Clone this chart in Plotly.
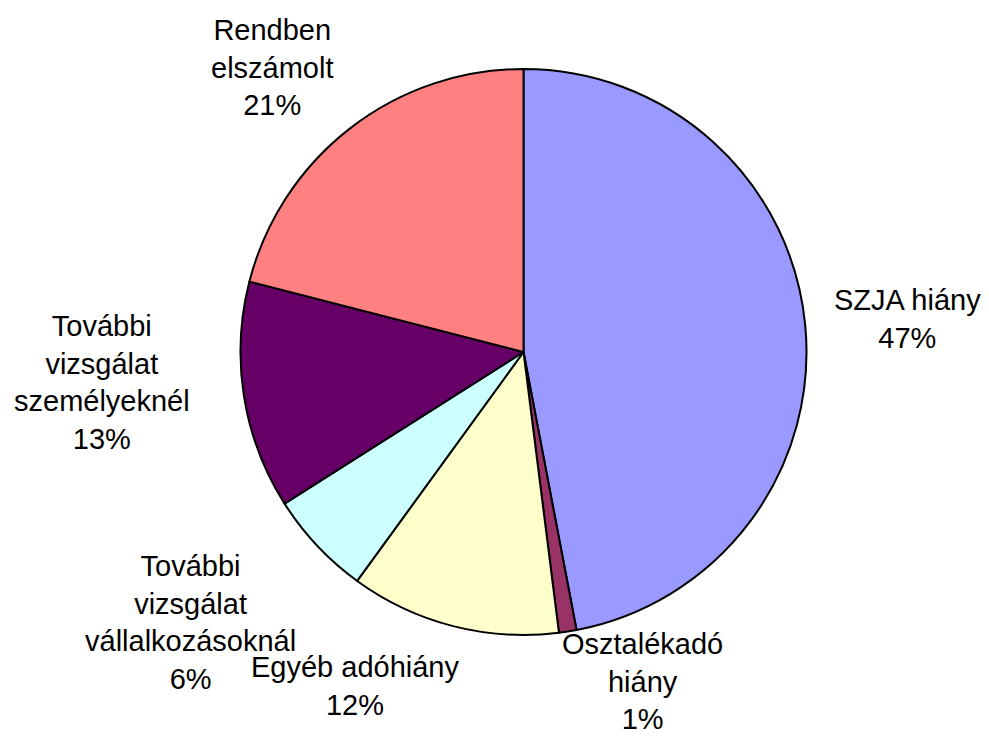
import plotly.graph_objects as go

labels = ["SZJA hiány", "Osztalékadó<br>hiány", "Egyéb adóhiány",
          "További<br>vizsgálat<br>vállalkozásoknál", "További<br>vizsgálat<br>személyeknél",
          "Rendben<br>elszámolt"]
values = [47, 1, 12, 6, 13, 21]
colors = ["#9999FF", "#993366", "#FFFFCC", "#CCFFFF", "#660066", "#FF8080"]

W, H = 989, 737
cx, cy, r = 523.5, 352, 283

# label block centres (pixels) — layout only
label_pos = [(907, 319), (642, 681), (355, 686), (190, 622), (102, 382), (272, 67)]

fig = go.Figure(go.Pie(
    labels=labels, values=values, sort=False, direction="clockwise", rotation=0,
    marker=dict(colors=colors, line=dict(color="black", width=2)),
    textinfo="none", showlegend=False, hoverinfo="label+percent",
    domain=dict(x=[(cx - r) / W, (cx + r) / W], y=[(H - cy - r) / H, (H - cy + r) / H]),
))

total = sum(values)
for lab, v, (px, py) in zip(labels, values, label_pos):
    fig.add_annotation(
        x=px / W, y=1 - py / H, xref="paper", yref="paper",
        xanchor="center", yanchor="middle", showarrow=False, align="center",
        text=f"{lab}<br>{round(100 * v / total)}%",
        font=dict(family="Liberation Sans, Arial, sans-serif", size=29, color="black"),
    )

fig.update_layout(width=W, height=H, margin=dict(l=0, r=0, t=0, b=0),
                  paper_bgcolor="white", plot_bgcolor="white")
fig.write_html("out.html", config={"displayModeBar": False},
               post_script="document.body.style.margin='0';document.body.style.overflow='hidden';")
